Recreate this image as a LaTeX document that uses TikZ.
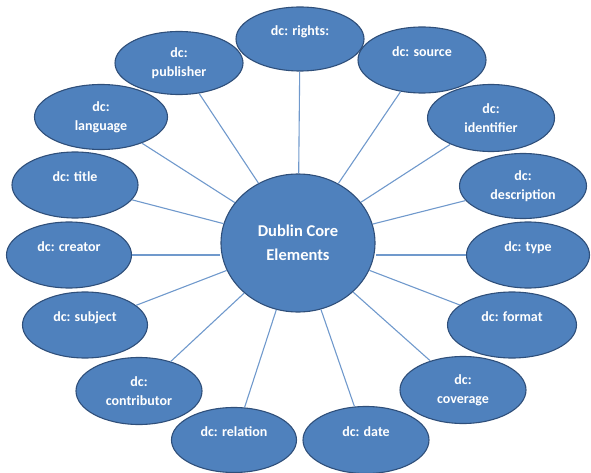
\documentclass[tikz,border=0pt]{standalone}
\usepackage{fontspec}
\setmainfont{Carlito}
\usetikzlibrary{shapes.geometric}
\definecolor{elfill}{HTML}{4F81BD}
\definecolor{eldraw}{HTML}{2F4F7A}
\definecolor{conn}{HTML}{7099CC}
\tikzset{
  el/.style={ellipse, fill=elfill, draw=eldraw, line width=1.1pt, inner sep=0pt,
    text=white, font=\bfseries\fontsize{14}{19}\selectfont, align=center},
  one/.style={text depth=16pt},
  hub/.style={ellipse, fill=elfill, draw=eldraw, line width=1.1pt, inner sep=0pt,
    minimum width=154pt, minimum height=138pt,
    text=white, font=\bfseries\fontsize{16.5}{24}\selectfont, align=center},
  link/.style={draw=conn, line width=1.1pt}
}
\begin{document}
\begin{tikzpicture}[x=1pt,y=-1pt]
\useasboundingbox (0,0) rectangle (591,473);
\node[hub] (hub) at (298,243) {Dublin Core\\Elements};
\node[el,one,minimum width=128pt,minimum height=64pt] (rights) at (300,39) {dc: rights:};
\node[el,minimum width=128pt,minimum height=63pt] (publisher) at (179,63) {dc:\\publisher};
\node[el,minimum width=133pt,minimum height=65pt] (language) at (101,117) {dc:\\language};
\node[el,one,minimum width=128pt,minimum height=66pt] (source) at (422,60) {dc: source};
\node[el,minimum width=127pt,minimum height=67pt] (identifier) at (491,118) {dc:\\identifier};
\node[el,minimum width=127pt,minimum height=65pt] (description) at (523,186) {dc:\\description};
\node[el,one,minimum width=123pt,minimum height=66pt] (type) at (528,255) {dc: type};
\node[el,one,minimum width=129pt,minimum height=66pt] (format) at (512,325) {dc: format};
\node[el,minimum width=126pt,minimum height=67pt] (coverage) at (463,390) {dc:\\coverage};
\node[el,one,minimum width=126pt,minimum height=67pt] (date) at (366,440) {dc: date};
\node[el,one,minimum width=125pt,minimum height=65pt] (relation) at (234,440) {dc: relation};
\node[el,minimum width=126pt,minimum height=67pt] (contributor) at (139,391) {dc:\\contributor};
\node[el,one,minimum width=125pt,minimum height=66pt] (subject) at (85,325) {dc: subject};
\node[el,one,minimum width=125pt,minimum height=66pt] (creator) at (69,255) {dc: creator};
\node[el,one,minimum width=126pt,minimum height=66pt] (title) at (75,185) {dc: title};
\foreach \n in {rights,publisher,language,source,identifier,description,format,coverage,date,relation,contributor,subject,title}
  \draw[link] (\n) -- (hub);
\draw[link] (creator.east) -- (creator.east -| hub.west);
\draw[link] (type.west) -- (type.west -| hub.east);
\end{tikzpicture}
\end{document}
